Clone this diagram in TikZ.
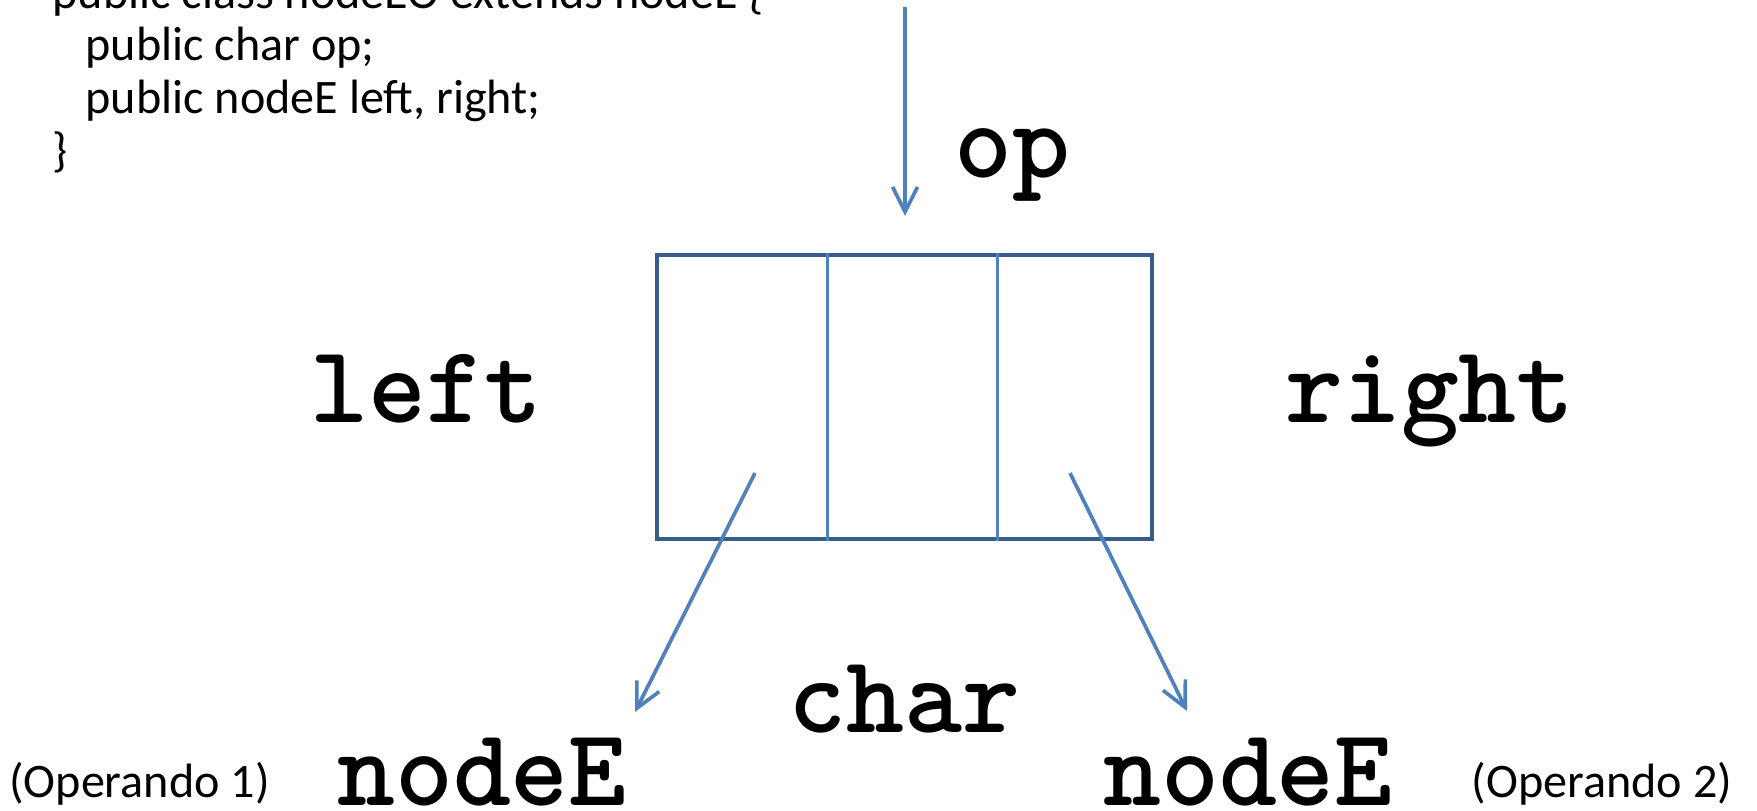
\documentclass[tikz,border=0pt]{standalone}
\usepackage{fontspec}
\setmainfont{Carlito}
\usetikzlibrary{arrows.meta,positioning}
\definecolor{boxline}{RGB}{56,93,138}
\definecolor{ptrblue}{RGB}{79,129,189}

\begin{document}
\begin{tikzpicture}[
  code/.style={anchor=base west,inner sep=0pt,font=\fontsize{13.7}{16}\selectfont},
  field/.style={anchor=base,inner sep=0pt,font=\fontsize{31.4}{34}\selectfont\ttfamily\bfseries\addfontfeatures{FakeBold=1.5}},
  note/.style={anchor=base,inner sep=0pt,font=\fontsize{13.7}{16}\selectfont},
  ptr/.style={ptrblue,line width=1.05pt,-{Straight Barb[length=2.5mm,width=2.5mm]}}
]
\useasboundingbox (0,0) rectangle (17.57,8.10);

% Class declaration (top line cut off)
\node[code] (decl) at (0.52,8.02) {public class nodeEO extends nodeE \{};
\node[code] (fop) at (0.85,7.50) {public char op;};
\node[code] (fkids) at (0.85,6.97) {public nodeE left, right;};
\node[code] (close) at (0.52,6.44) {\}};

% Node record with three fields
\node[draw=boxline,line width=1.35pt,minimum width=4.95cm,minimum height=2.84cm,inner sep=0pt] (rec) at (9.045,4.13) {};
\draw[ptrblue,line width=1pt] ([xshift=1.73cm]rec.south west) -- ([xshift=1.73cm]rec.north west);
\draw[ptrblue,line width=1pt] ([xshift=-1.57cm]rec.south east) -- ([xshift=-1.57cm]rec.north east);

% Field labels
\node[field] (op) at (10.125,6.33) {op};
\node[field] (left) at (4.265,3.88) {left};
\node[field] (right) at (14.30,3.88) {right};
\node[field] (char) at (9.045,0.78) {char};
\node[field] (lnode) at (4.82,0.05) {nodeE};
\node[field] (rnode) at (12.48,0.05) {nodeE};
\node[note] (op1) at (1.395,0.13) {(Operando 1)};
\node[note] (op2) at (16.02,0.13) {(Operando 2)};

% Pointers
\coordinate (opin) at (9.05,8.03);
\coordinate (opend) at (9.05,5.94);
\coordinate (lstart) at (7.55,3.37);
\coordinate (ltip) at (6.35,0.98);
\coordinate (rstart) at (10.70,3.37);
\coordinate (rtip) at (11.87,0.99);
\draw[ptr] (opin) -- (opend);
\draw[ptr] (lstart) -- (ltip);
\draw[ptr] (rstart) -- (rtip);

\end{tikzpicture}
\end{document}
